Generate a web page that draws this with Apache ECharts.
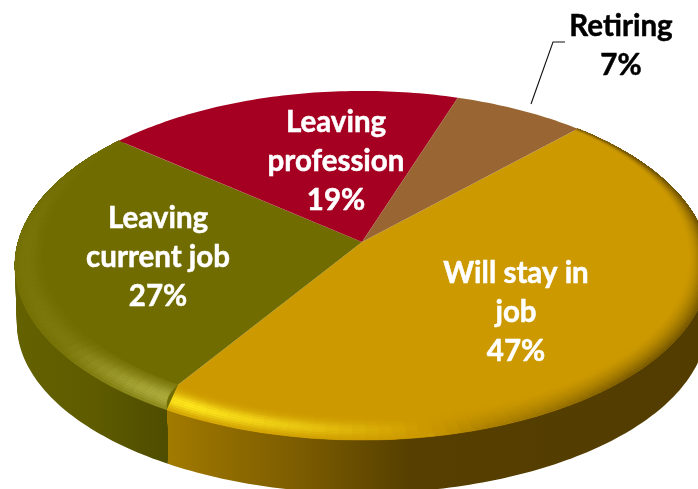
<!DOCTYPE html>
<html><head><meta charset="utf-8">
<style>html,body{margin:0;padding:0;background:#fff;overflow:hidden}#c{width:698px;height:489px}</style>
<script src="https://cdn.jsdelivr.net/npm/echarts@6/dist/echarts.min.js"></script>
</head><body><div id="c"></div>
<script>
const categories = ['Will stay in\njob', 'Leaving\ncurrent job', 'Leaving\nprofession', 'Retiring'];
const values = [47, 27, 19, 7];
const faceColors = ['#CC9900', '#716C00', '#A50021', '#996633'];
const highlightColors = ['#FFE81E', '#B4B444', '#A50021', '#996633'];
const shadeColors = ['#5A4200', '#5E5A00', '#A50021', '#996633'];
const labelColors = ['#fff', '#fff', '#fff', '#000'];
const labelCenters = [[516, 312], [158, 257], [336, 161], [621, 46]];

const total = values.reduce((a, b) => a + b, 0);
const START = 46.5, K = 0.1347, A = 344, B = 171.4, CX = 362, CY = 242;
const rad = d => d * Math.PI / 180;
function project(deg, r, h) {
  const x = r * Math.cos(rad(deg)), y = r * Math.sin(rad(deg));
  const w = 1 + K * y;
  const sx = A * x / w, sy = B * y / w;
  if (h === undefined) return [CX + sx, CY - sy];
  return [CX + sx * (1 - 0.006 * h), CY + 59 * h - sy * (1 - 0.03 * h)];
}
function sliceAngles(i) {
  let s = 0;
  for (let j = 0; j < i; j++) s += values[j];
  return [START - s / total * 360, START - (s + values[i]) / total * 360];
}
const JOIN = sliceAngles(1)[0];
const SHIFT = 2.6;
function warp(a, t) {
  let d = a - JOIN;
  while (d > 180) d -= 360; while (d <= -180) d += 360;
  const f = Math.max(0, 1 - Math.abs(d) / 25);
  return a + SHIFT * t * t * f;
}
function wrap(d) { while (d > 180) d -= 360; while (d <= -180) d += 360; return d; }
function interp(tbl, d) {
  for (let i = 1; i < tbl.length; i++) {
    if (d <= tbl[i][0]) {
      const f = (d - tbl[i - 1][0]) / (tbl[i][0] - tbl[i - 1][0]);
      return tbl[i - 1][1] + (tbl[i][1] - tbl[i - 1][1]) * f;
    }
  }
  return tbl[tbl.length - 1][1];
}
const lightTbl = [[-180,.13],[-165,.13],[-145,.2],[-128,.8],[-118,1],[-100,.6],[-85,.15],[-72,-.3],[-45,-.75],[0,-.85],[30,-.9],[60,-.5],[100,0],[140,.03],[180,.13]];
const widthTbl = [[-180,.075],[-140,.1],[-122,.11],[-90,.11],[-50,.085],[0,.055],[40,.02],[70,.005],[110,.005],[140,.025],[180,.075]];
const hex = c => [1, 3, 5].map(i => parseInt(c.substr(i, 2), 16));
function mix(a, b, t) { return a.map((v, i) => v + (b[i] - v) * t); }
const css = c => 'rgb(' + c.map(v => Math.round(v)).join(',') + ')';

function wallStops(i) {
  const gold = [[166,'#A27B00'],[230,'#8F6B00'],[300,'#7C5C00'],[350,'#6A4F00'],[410,'#563F00'],[698,'#523C00']];
  const olive = [[15,'#646100'],[90,'#5F5C00'],[130,'#565400'],[170,'#4E4D00']];
  return (i === 0 ? gold : olive).map(s => ({ offset: s[0] / 698, color: s[1] }));
}
function renderWall(params, api) {
  const i = params.dataIndex;
  if (i > 1) return { type: 'group', children: [] };
  let [a0, a1] = sliceAngles(i);
  if (i === 0) a1 += SHIFT; else a0 += SHIFT;
  const fill = { type: 'linear', x: 0, y: 0, x2: 698, y2: 0, global: true, colorStops: wallStops(i) };
  const children = [];
  for (let l = 24; l >= 1; l--) {
    const h1 = l / 24;
    const pts = [];
    for (let a = a0; a >= a1; a -= 1) pts.push(project(a, 1));
    pts.push(project(a1, 1));
    pts.push(project(a1, 1, h1));
    for (let a = a1; a < a0; a += 1) pts.push(project(a, 1, h1));
    pts.push(project(a0, 1, h1));
    children.push({ type: 'polygon', shape: { points: pts }, style: { fill } });
  }
  return { type: 'group', children };
}
function renderFace(params, api) {
  const i = params.dataIndex;
  const [a0, a1] = sliceAngles(i);
  const children = [];
  const pts = [project(a0, 0)];
  if (i < 2) pts.push(project(a0, 0.89));
  for (let a = a0; a >= a1; a -= 1) pts.push(project(i < 2 ? warp(a, 1) : a, 1));
  pts.push(project(i < 2 ? warp(a1, 1) : a1, 1));
  if (i < 2) pts.push(project(a1, 0.89));
  children.push({ type: 'polygon', shape: { points: pts }, style: { fill: faceColors[i] } });
  if (i < 2) {
    const base = hex(faceColors[i]), hi = hex(highlightColors[i]), lo = hex(shadeColors[i]);
    const RINGS = 12, STEP = 2;
    for (let a = a0; a > a1 + 1e-6; a -= STEP) {
      const b = Math.max(a - STEP, a1), m = wrap((a + b) / 2);
      const L = interp(lightTbl, m);
      const Wa = interp(widthTbl, wrap(a)), Wb = interp(widthTbl, wrap(b));
      for (let k = 0; k < RINGS; k++) {
        const t0 = k / RINGS, t1 = (k + 1) / RINGS, t = (t0 + t1) / 2;
        let col;
        if (L >= 0) {
          const bump = Math.exp(-Math.pow((t - 0.6) / (i === 1 ? 0.45 : 0.3), 2));
          col = mix(base, hi, Math.min(1, L * bump));
        } else {
          col = mix(base, lo, Math.min(1, -L * Math.pow(t, 1.6)));
        }
        const c = css(col);
        children.push({ type: 'polygon', shape: { points: [
          project(warp(a, t0), 1 - Wa * (1 - t0)), project(warp(b, t0), 1 - Wb * (1 - t0)),
          project(warp(b, t1), 1 - Wb * (1 - t1)), project(warp(a, t1), 1 - Wa * (1 - t1))] },
          style: { fill: c, stroke: c, lineWidth: 0.4 } });
      }
    }
  }
  return { type: 'group', children };
}
function renderLabel(params, api) {
  const i = params.dataIndex;
  const pct = Math.round(api.value(0) / total * 100) + '%';
  const c = labelCenters[i];
  const children = [{ type: 'text', x: c[0], y: c[1], style: {
    text: categories[i] + '\n' + pct, fill: labelColors[i],
    font: 'bold 29.5px Lato, "Open Sans", sans-serif', lineHeight: 39,
    stroke: labelColors[i], lineWidth: 0.5,
    align: 'center', verticalAlign: 'middle' } }];
  if (i === 3) {
    children.push({ type: 'polyline', shape: { points: [[531, 104], [553, 42], [565, 42]] },
      style: { fill: 'none', stroke: '#111', lineWidth: 1.1 } });
  }
  return { type: 'group', children };
}
const data = values.map((v, i) => ({ name: categories[i], value: v }));
const chart = echarts.init(document.getElementById('c'), null, { renderer: 'canvas', width: 698, height: 489 });
chart.setOption({
  animation: false, backgroundColor: '#fff',
  series: [
    { type: 'custom', coordinateSystem: 'none', silent: true, clip: false, z: 1, renderItem: renderWall, data },
    { type: 'custom', coordinateSystem: 'none', silent: true, clip: false, z: 2, renderItem: renderFace, data },
    { type: 'custom', coordinateSystem: 'none', silent: true, clip: false, z: 3, renderItem: renderLabel, data }
  ]
});
</script></body></html>
